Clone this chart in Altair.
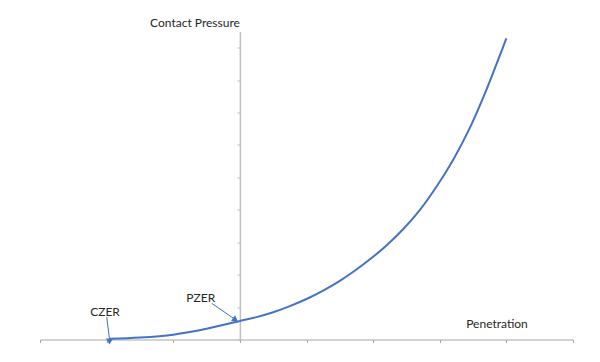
import altair as alt
import pandas as pd

# Curve values
penetration = [-1.95, -1.5, -1.0, -0.5, 0.0, 0.25, 0.5, 0.75, 1.0, 1.25, 1.5, 1.75, 2.0, 2.2,
               2.45, 2.7, 2.95, 3.2, 3.45, 3.7, 3.95, 4.0]
pressure = [0.02, 0.06, 0.15, 0.33, 0.57, 0.69, 0.84, 1.03, 1.25, 1.51, 1.81, 2.16, 2.55, 2.90,
            3.40, 3.99, 4.71, 5.54, 6.52, 7.70, 9.02, 9.29]

x_ticks = [-3, -2, -1, 0, 1, 2, 3, 4, 5]
y_ticks = [0, 1, 2, 3, 4, 5, 6, 7, 8, 9]

df = pd.DataFrame({"pen": penetration, "cp": pressure})

W, H = 533, 308
XMIN, XMAX = -3, 5
x_zero_px = (0 - XMIN) / (XMAX - XMIN) * W

FONT = "Lato"
TXT = "#262626"
BLUE = "#4472C4"

xs = alt.Scale(domain=[XMIN, XMAX], nice=False, zero=False)
ys = alt.Scale(domain=[0, 9.5], nice=False, zero=False)

line = alt.Chart(df).mark_line(color=BLUE, strokeWidth=2, interpolate="catmull-rom").encode(
    x=alt.X("pen:Q", scale=xs, axis=alt.Axis(orient="bottom", values=x_ticks, labels=False, title=None,
                                              tickSize=3, grid=False, domainColor="#a6a6a6",
                                              tickColor="#a6a6a6", domainWidth=1)),
    y=alt.Y("cp:Q", scale=ys, axis=alt.Axis(orient="left", offset=-x_zero_px, values=y_ticks, labels=False,
                                             title=None, tickSize=3, grid=False, domainColor="#bfbfbf",
                                             tickColor="#bfbfbf", domainWidth=1.5)),
)

one = pd.DataFrame({"a": [0]})

def label(text, x, y):
    return alt.Chart(one).mark_text(text=text, font=FONT, fontSize=12, color=TXT,
                                    align="center", baseline="middle").encode(
        x=alt.value(x), y=alt.value(y))

def arrow(x1, y1, x2, y2):
    return alt.Chart(one).mark_rule(color=BLUE, strokeWidth=1).encode(
        x=alt.value(x1), y=alt.value(y1), x2=alt.value(x2), y2=alt.value(y2))

def head(x, y, angle):
    return alt.Chart(one).mark_point(shape="triangle-down", filled=True, color=BLUE, opacity=1,
                                     size=50, angle=angle).encode(x=alt.value(x), y=alt.value(y))

chart = alt.layer(
    line,
    label("Contact Pressure", 155, -8.8),
    label("Penetration", 457, 292.8),
    label("PZER", 160.8, 266.8),
    label("CZER", 65, 280.2),
    arrow(66.7, 285.5, 69.5, 307.5),
    arrow(171.7, 271.8, 194.5, 287.5),
    head(69.5, 310, 0),
    head(195.5, 288.5, 306),
).properties(
    width=W, height=H,
    autosize=alt.AutoSizeParams(type="none"),
    padding={"left": 32, "top": 23.5, "right": 10, "bottom": 12},
).configure_view(stroke=None)

chart.save("out.html", embed_options={"renderer": "svg", "actions": False})
